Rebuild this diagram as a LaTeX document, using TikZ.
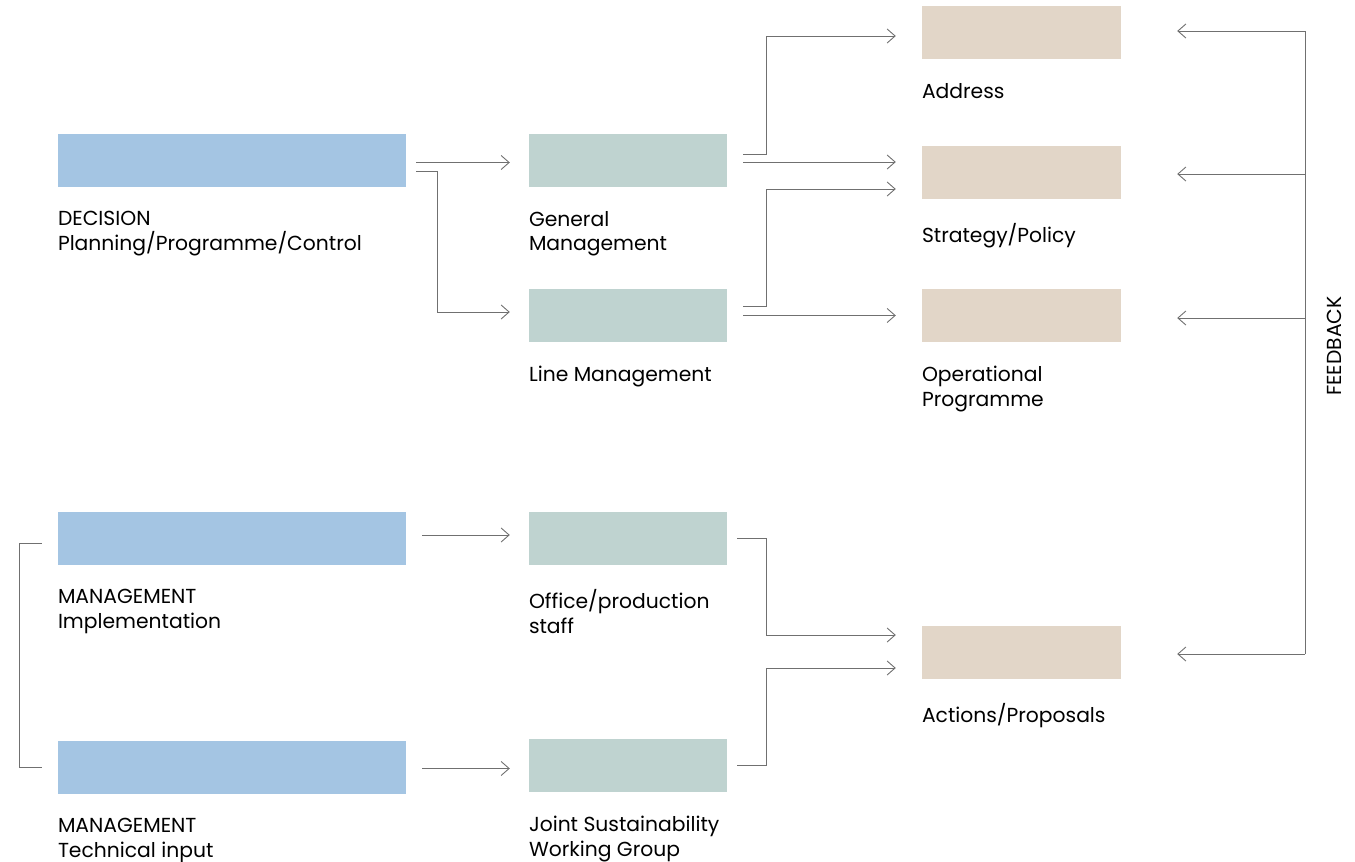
\documentclass[tikz,border=0pt]{standalone}
\usepackage{fontspec}
\setmainfont{Poppins}
\usepackage{tikz}
\usepackage{xcolor}
\usetikzlibrary{arrows.meta, calc, positioning}
\definecolor{decblue}{RGB}{164,197,227}
\definecolor{mgtgreen}{RGB}{191,211,208}
\definecolor{outsand}{RGB}{226,214,200}
\definecolor{wire}{RGB}{112,112,112}

\begin{document}
\begin{tikzpicture}[x=1pt, y=1pt, >={Straight Barb[length=8pt, width=14pt]},
    box/.style={minimum height=53pt, inner sep=0pt, draw=none},
    wide/.style={box, fill=decblue, minimum width=348pt},
    mid/.style={box, fill=mgtgreen, minimum width=198pt},
    outbox/.style={box, fill=outsand, minimum width=199pt},
    lbl/.style={anchor=north west, inner sep=0pt, align=left,
        font=\fontsize{20.3}{24.5}\selectfont},
    conn/.style={draw=wire, line width=0.9pt}]
            \useasboundingbox (0,0) rectangle (1355,-862);
            \node[wide] (dec) at (232,-160.5) {};
            \node[wide] (impl) at (232,-538.5) {};
            \node[wide] (tech) at (232,-767.5) {};
            \node[mid] (gen) at (628,-160.5) {};
            \node[mid] (line) at (628,-315.5) {};
            \node[mid] (office) at (628,-538.5) {};
            \node[mid] (joint) at (628,-765.5) {};
            \node[outbox] (addr) at (1021.5,-32.5) {};
            \node[outbox] (strat) at (1021.5,-172.5) {};
            \node[outbox] (oper) at (1021.5,-315.5) {};
            \node[outbox] (act) at (1021.5,-652.5) {};

            \node[lbl] (declbl) at ([yshift=-24]dec.south west) {DECISION\\Planning/Programme/Control};
            \node[lbl] (impllbl) at ([yshift=-24]impl.south west) {MANAGEMENT\\Implementation};
            \node[lbl] (techlbl) at ([yshift=-24]tech.south west) {MANAGEMENT\\Technical input};
            \node[lbl] (genlbl) at ([yshift=-24]gen.south west) {General\\Management};
            \node[lbl] (linelbl) at ([yshift=-24]line.south west) {Line Management};
            \node[lbl] (officelbl) at ([yshift=-24]office.south west) {Office/production\\staff};
            \node[lbl] (jointlbl) at ([yshift=-24]joint.south west) {Joint Sustainability\\Working Group};
            \node[lbl] (addrlbl) at ([yshift=-24]addr.south west) {Address};
            \node[lbl] (stratlbl) at ([yshift=-24]strat.south west) {Strategy/Policy};
            \node[lbl] (operlbl) at ([yshift=-24]oper.south west) {Operational\\Programme};
            \node[lbl] (actlbl) at ([yshift=-24]act.south west) {Actions/Proposals};

            \draw[conn, ->] ([xshift=10, yshift=-2]dec.east) -- ([xshift=-19, yshift=-2]gen.west);
            \draw[conn, ->] ([xshift=10, yshift=-10.5]dec.east) -- ++(21,0) |- ([xshift=-19, yshift=3.5]line.west);
            \draw[conn, ->] ([xshift=16, yshift=6.5]gen.east) -- ++(23,0) |- ([xshift=-26, yshift=-3.5]addr.west);
            \draw[conn, ->] ([xshift=16, yshift=-1.5]gen.east) -- ([xshift=-26, yshift=10.5]strat.west);
            \draw[conn, ->] ([xshift=16, yshift=9.5]line.east) -- ++(23,0) |- ([xshift=-26, yshift=-16.5]strat.west);
            \draw[conn, ->] ([xshift=16]line.east) -- ([xshift=-26]oper.west);
            \draw[conn, ->] ([xshift=16, yshift=3.5]impl.east) -- ([xshift=-19, yshift=3.5]office.west);
            \draw[conn, ->] ([xshift=16, yshift=-1]tech.east) -- ([xshift=-19, yshift=-3]joint.west);
            \draw[conn, ->] ([xshift=10]office.east) -- ++(29,0) |- ([xshift=-26, yshift=17.5]act.west);
            \draw[conn, ->] ([xshift=10]joint.east) -- ++(29,0) |- ([xshift=-26, yshift=-15.5]act.west);
            \draw[conn] ([xshift=-16, yshift=-4.5]impl.west) -- ++(-22,0) |- ([xshift=-16]tech.west);

            \coordinate (fb) at (1305,0);
            \draw[conn, ->] ($(act.east -| fb)+(0,-1.5)$) -- ($(addr.east -| fb)+(0,1.5)$) -- ([xshift=56, yshift=1.5]addr.east);
            \draw[conn, ->] ($(strat.east -| fb)+(0,-1.5)$) -- ([xshift=56, yshift=-1.5]strat.east);
            \draw[conn, ->] ($(oper.east -| fb)+(0,-2.5)$) -- ([xshift=56, yshift=-2.5]oper.east);
            \draw[conn, ->] ($(act.east -| fb)+(0,-1.5)$) -- ([xshift=56, yshift=-1.5]act.east);
            \node[inner sep=0pt, rotate=90, font=\fontsize{20.3}{25}\selectfont] (fblbl) at (1334,-346) {FEEDBACK};
      \end{tikzpicture}
\end{document}
